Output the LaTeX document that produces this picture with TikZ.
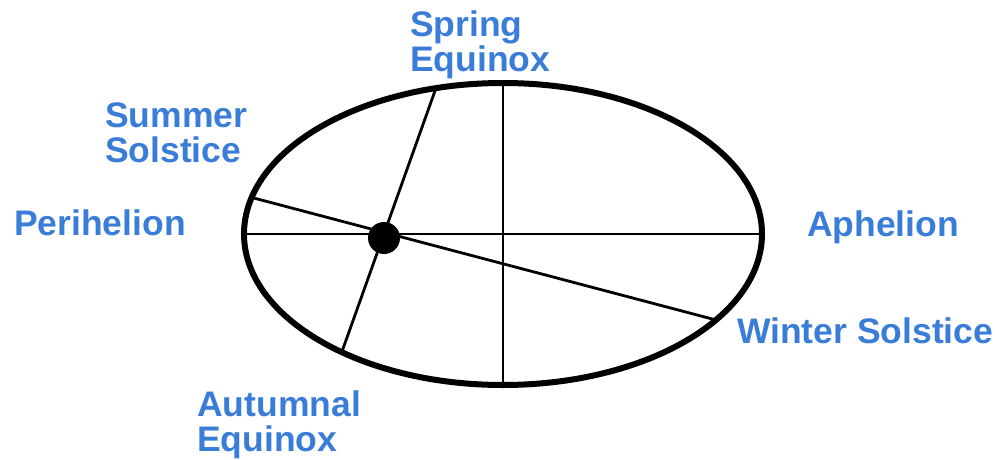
\documentclass[tikz,border=0pt]{standalone}
\usepackage{fontspec}
\setmainfont{Liberation Sans}
\usetikzlibrary{calc}

\definecolor{lblue}{RGB}{58,125,216}

\begin{document}
\begin{tikzpicture}[x=1pt,y=-1pt,
    lbl/.style={font=\bfseries\fontsize{35.5}{35}\selectfont,text=lblue,inner sep=0pt,align=left,anchor=base west},
    orbit/.style={line width=6pt},
    axis/.style={line width=2.8pt}]
    \useasboundingbox (0,0) rectangle (995,460);

    % orbit
    \coordinate (c) at (503,234);
    \draw[orbit] (c) ellipse [x radius=259pt, y radius=151pt];

    % points on the orbit
    \coordinate (peri) at ($(c)+(180:259pt and 151pt)$);
    \coordinate (aph)  at ($(c)+(0:259pt and 151pt)$);
    \coordinate (top)  at ($(c)+(90:259pt and 151pt)$);
    \coordinate (bot)  at ($(c)+(-90:259pt and 151pt)$);
    \coordinate (sumsol) at ($(c)+(166:259pt and 151pt)$);
    \coordinate (winsol) at ($(c)+(-34.7:259pt and 151pt)$);
    \coordinate (spreq) at ($(c)+(105:259pt and 151pt)$);
    \coordinate (autEq) at ($(c)+(-128.5:259pt and 151pt)$);

    % axes
    \draw[axis] (peri) -- (aph);
    \draw[axis] (top) -- (bot);
    \draw[axis] (sumsol) -- (winsol);
    \draw[axis] (spreq) -- (autEq);

    % sun
    \node[circle,fill=black,minimum size=32pt,inner sep=0pt] (sun) at (384,238) {};

    % labels (base = last line)
    \node[lbl] (spring) at (410,71) {Spring\\Equinox};
    \node[lbl] (summer) at (105,162) {Summer\\Solstice};
    \node[lbl] (perih) at (14,235) {Perihelion};
    \node[lbl] (aphel) at (807,236) {Aphelion};
    \node[lbl] (winter) at (737,343) {Winter Solstice};
    \node[lbl] (autumn) at (197,451) {Autumnal\\Equinox};
\end{tikzpicture}
\end{document}
